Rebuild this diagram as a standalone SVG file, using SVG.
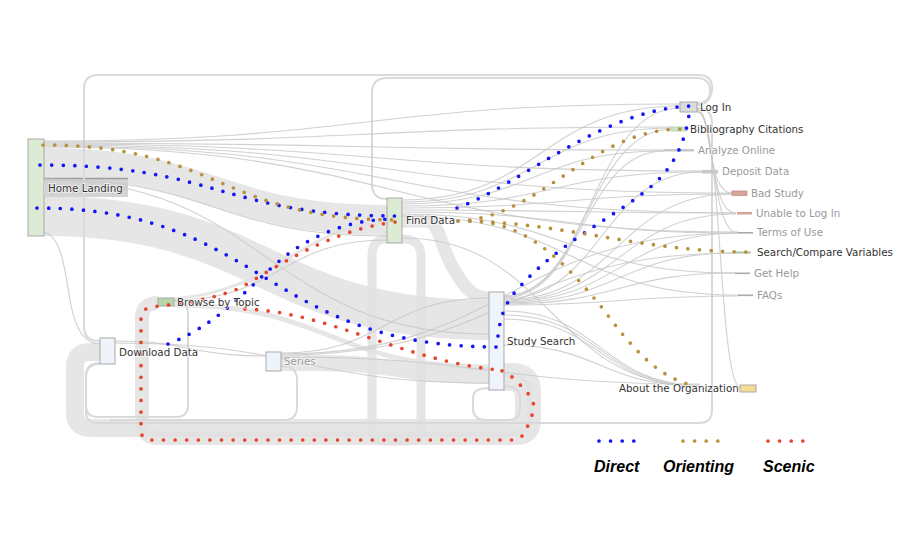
<svg xmlns="http://www.w3.org/2000/svg" width="900" height="540" viewBox="0 0 900 540">
<defs>
<style>
.band{fill:none;stroke:#e0e0e0;stroke-opacity:.82}
.link{fill:none;stroke:#c8c8c8;stroke-width:1.1;stroke-opacity:.85}
.loop{fill:none;stroke:#d9d9d9;stroke-width:2}
.node{stroke:#a9a9a9;stroke-width:1}
.lbl{font-family:"DejaVu Sans",Verdana,sans-serif;font-size:10.3px;fill:#333;paint-order:stroke;stroke:#fff;stroke-width:2;stroke-opacity:.6}
.dim{fill:#999}
.dot{fill:none;stroke-width:3.7;stroke-linecap:round;stroke-dasharray:0 11.6}
.direct{stroke:#1414f5}
.orient{stroke:#b8913d}
.scenic{stroke:#e8432c}
.leg{font-family:"Liberation Sans",Arial,sans-serif;font-size:16px;font-weight:bold;font-style:italic;fill:#000}
</style>
</defs>
<rect width="900" height="540" fill="#fff"/>

<g id="connectors">
  <path class="band" stroke-width="30" d="M44 163C215 163 215 220 387 220"/>
  <path class="band" stroke-width="40" d="M44 216C264 216 264 320 489 320"/>
  <path class="band" stroke-width="16" d="M281 363H318C400 363 400 376 489 376"/>
  <path class="band" stroke-width="13" d="M402 221H425C440 221 440 245 452 266C464 287 472 298 489 298"/>
  <path class="band" stroke-width="9" d="M402 239Q421 239 421 256V428Q421 441 408 441H385Q372 441 372 428V256Q372 239 387 239"/>
  <path class="band" stroke-width="18" d="M503 382H510Q524 382 524 398V414Q524 428 510 428H90Q75 428 75 413V367Q75 352 90 352H100"/>
  <path class="band" stroke-width="14" d="M503 370H512Q534 370 534 392V420Q534 438 516 438H158Q142 438 142 422V318Q142 303 158 303"/>
  <path class="band" stroke-width="5" d="M174 305C330 305 330 367 489 367"/>
  <path class="band" stroke-width="3" d="M174 299C280 290 300 225 387 223"/>
  <rect x="45" y="178" width="83" height="19" fill="#d3d3d3"/>
  <path d="M44 178.5H128" stroke="#9c9c9c" stroke-width="1.4" fill="none"/>

  <path class="loop" d="M697 105C706 105 712 98 712 88Q712 75 699 75H98Q84 75 84 89V327Q84 341 100 341"/>
  <path class="loop" d="M697 103Q710 103 710 91Q710 78 697 78H387Q372 78 372 93V184Q372 199 387 199"/>
  <path class="loop" d="M697 108C707 108 712 113 712 123V410Q712 423 699 423H98Q86 423 86 411V377Q86 364 100 364"/>
  <path class="loop" d="M174 301Q188 301 188 315V405Q188 417 176 417H98Q86 417 86 405V376Q86 363 100 363"/>
  <path class="loop" d="M281 366Q297 366 297 380V407Q297 420 284 420H110"/>
  <path class="loop" stroke-width="1.6" d="M503 386Q520 386 520 398V408Q520 420 507 420H486Q473 420 473 408V398Q473 388 489 388"/>

  <path class="link" d="M44 141C362 141 362 104 680 104"/>
  <path class="link" d="M44 142C358 142 358 127 672 127"/>
  <path class="link" d="M44 143C354 143 354 150 664 150"/>
  <path class="link" d="M44 144C373 144 373 171 702 171"/>
  <path class="link" d="M44 145C388 145 388 193 732 193"/>
  <path class="link" d="M44 146C390 146 390 213 736 213"/>
  <path class="link" d="M44 147C391 147 391 232 738 232"/>
  <path class="link" d="M44 179C215 179 215 236 387 236"/>
  <path class="link" d="M44 180C266 180 266 334 489 334"/>
  <path class="link" d="M44 232C60 236 64 262 70 300C76 334 86 343 100 344"/>

  <path class="link" d="M402 200C541 200 541 106 680 106"/>
  <path class="link" d="M402 202C537 202 537 128 672 128"/>
  <path class="link" d="M402 204C533 204 533 151 664 151"/>
  <path class="link" d="M402 206C552 206 552 172 702 172"/>
  <path class="link" d="M402 208C567 208 567 194 732 194"/>
  <path class="link" d="M402 210C569 210 569 213 736 213"/>
  <path class="link" d="M402 212C570 212 570 233 738 233"/>
  <path class="link" d="M402 214C568 214 568 273 735 273"/>
  <path class="link" d="M402 216C570 216 570 295 738 295"/>
  <path class="link" d="M402 238C551 238 551 386 700 386"/>

  <path class="link" d="M503 296C591 296 591 108 680 108"/>
  <path class="link" d="M503 297C587 297 587 129 672 129"/>
  <path class="link" d="M503 298C583 298 583 151 664 151"/>
  <path class="link" d="M503 299C602 299 602 172 702 172"/>
  <path class="link" d="M503 300C617 300 617 194 732 194"/>
  <path class="link" d="M503 301C619 301 619 214 736 214"/>
  <path class="link" d="M503 302C620 302 620 233 738 233"/>
  <path class="link" d="M503 303C619 303 619 253 735 253"/>
  <path class="link" d="M503 304C619 304 619 273 735 273"/>
  <path class="link" d="M503 305C620 305 620 296 738 296"/>
  <path class="link" d="M503 311C601 311 601 385 700 385"/>
  <path class="link" d="M503 315C601 315 601 386 700 386"/>
  <path class="link" d="M503 319C601 319 601 387 700 387"/>
  <path class="link" d="M503 345C601 345 601 386 700 386"/>

  <path class="link" d="M281 357C490 357 490 384 700 384"/>
  <path class="link" d="M281 353C385 353 385 298 489 298"/>
  <path class="link" d="M281 354C509 354 509 233 738 233"/>
  <path class="link" d="M281 355C508 355 508 253 735 253"/>
  <path class="link" d="M115 341C190 341 190 356 266 356"/>
  <path class="link" d="M115 343C302 343 302 383 489 383"/>
  <path class="link" d="M174 300C280 300 280 240 387 240"/>

  <path class="link" d="M697 110C712 110 706 193 732 193"/>
  <path class="link" d="M697 111C714 111 708 213 736 213"/>
  <path class="link" d="M697 112C716 112 710 233 738 233"/>
  <path class="link" d="M697 109C722 109 718 380 740 388"/>
</g>

<g id="node-home-landing"><rect class="node" x="28" y="139" width="16" height="97" fill="#dcecd4"/></g>
<g id="node-find-data"><rect class="node" x="387" y="198" width="15" height="45" fill="#dcecd4"/></g>
<g id="node-study-search"><rect class="node" x="489" y="292" width="15" height="98" fill="#eef4fa"/></g>
<g id="node-download-data"><rect class="node" x="100" y="338" width="15" height="26" fill="#eef4fa"/></g>
<g id="node-series"><rect class="node" x="266" y="352" width="15" height="19" fill="#eef4fa"/></g>
<g id="node-browse-by-topic"><rect class="node" x="158" y="298" width="16" height="8" fill="#b7d7a8" stroke="#8fae84"/></g>
<g id="node-log-in"><rect class="node" x="680" y="102" width="17" height="10" fill="#dcdcdc"/></g>
<g id="node-bibliography"><rect x="671" y="127" width="16" height="4" fill="#cfe3c6" stroke="#b8c8b0" stroke-width=".8"/></g>
<g id="node-analyze-online"><rect x="664" y="149" width="30" height="2.5" fill="#c8c8c8"/></g>
<g id="node-deposit-data"><rect x="702" y="170" width="16" height="3.5" fill="#c8c8c8"/></g>
<g id="node-bad-study"><rect x="732" y="191" width="15" height="4.5" fill="#d6a698" stroke="#c49284" stroke-width=".8"/></g>
<g id="node-unable-login"><rect x="737" y="212" width="15" height="2.5" fill="#d6a39a"/></g>
<g id="node-terms"><rect x="738" y="232" width="15" height="1.6" fill="#aaa"/></g>
<g id="node-search-compare"><rect x="735" y="251.5" width="16" height="2" fill="#a9c7a0"/></g>
<g id="node-get-help"><rect x="735" y="272.5" width="15" height="1.6" fill="#aaa"/></g>
<g id="node-faqs"><rect x="738" y="294.5" width="15" height="1.6" fill="#aaa"/></g>
<g id="node-about-org"><rect class="node" x="740" y="385" width="16" height="7" fill="#f5dc96" stroke="#8a8a8a"/></g>

<g id="paths">
  <path class="dot direct" d="M40 165C220 165 220 216 400 216"/>
  <path class="dot direct" d="M457 208C520 185 600 110 690 106"/>
  <path class="dot direct" d="M37 208C264 208 264 347 498 347"/>
  <path class="dot direct" d="M498 336C500 318 505 303 516 291C560 240 620 215 655 183C680 160 688 130 690 106"/>
  <path class="dot direct" d="M168 344C230 320 260 270 300 246C330 228 360 219 395 219"/>
  <path class="dot orient" d="M43 145C220 145 220 220 399 220"/>
  <path class="dot orient" d="M458 221C540 218 590 130 680 129"/>
  <path class="dot orient" d="M458 221C560 221 640 252 751 252"/>
  <path class="dot orient" d="M470 221C530 221 570 270 600 305C630 345 655 377 695 386"/>
  <path class="dot scenic" d="M395 222C330 230 280 265 240 288C215 298 190 303 150 307Q141 310 141 320V430Q141 440 152 440H515Q524 438 528 425Q538 405 530 396Q522 386 512 377Q505 371 499 370"/>
  <path class="dot scenic" d="M245 309C330 312 400 360 499 370"/>
</g>

<g id="labels">
  <text class="lbl" x="48" y="192">Home Landing</text>
  <text class="lbl" x="406" y="224">Find Data</text>
  <text class="lbl" x="507" y="345">Study Search</text>
  <text class="lbl" x="119" y="356">Download Data</text>
  <text class="lbl dim" x="284" y="365">Series</text>
  <text class="lbl" x="177" y="306">Browse by Topic</text>
  <text class="lbl" x="700" y="111">Log In</text>
  <text class="lbl" x="690" y="133">Bibliography Citations</text>
  <text class="lbl dim" x="698" y="154">Analyze Online</text>
  <text class="lbl dim" x="722" y="175">Deposit Data</text>
  <text class="lbl dim" x="751" y="197">Bad Study</text>
  <text class="lbl dim" x="756" y="217">Unable to Log In</text>
  <text class="lbl dim" x="757" y="236">Terms of Use</text>
  <text class="lbl" x="757" y="256">Search/Compare Variables</text>
  <text class="lbl dim" x="754" y="277">Get Help</text>
  <text class="lbl dim" x="757" y="299">FAQs</text>
  <text class="lbl" x="619" y="392">About the Organization</text>
</g>

<g id="legend">
  <path class="dot direct" d="M599 441H640"/>
  <path class="dot orient" d="M683 441H724"/>
  <path class="dot scenic" d="M768 441H808"/>
  <text class="leg" x="594" y="472">Direct</text>
  <text class="leg" x="663" y="472">Orienting</text>
  <text class="leg" x="763" y="472">Scenic</text>
</g>
</svg>
